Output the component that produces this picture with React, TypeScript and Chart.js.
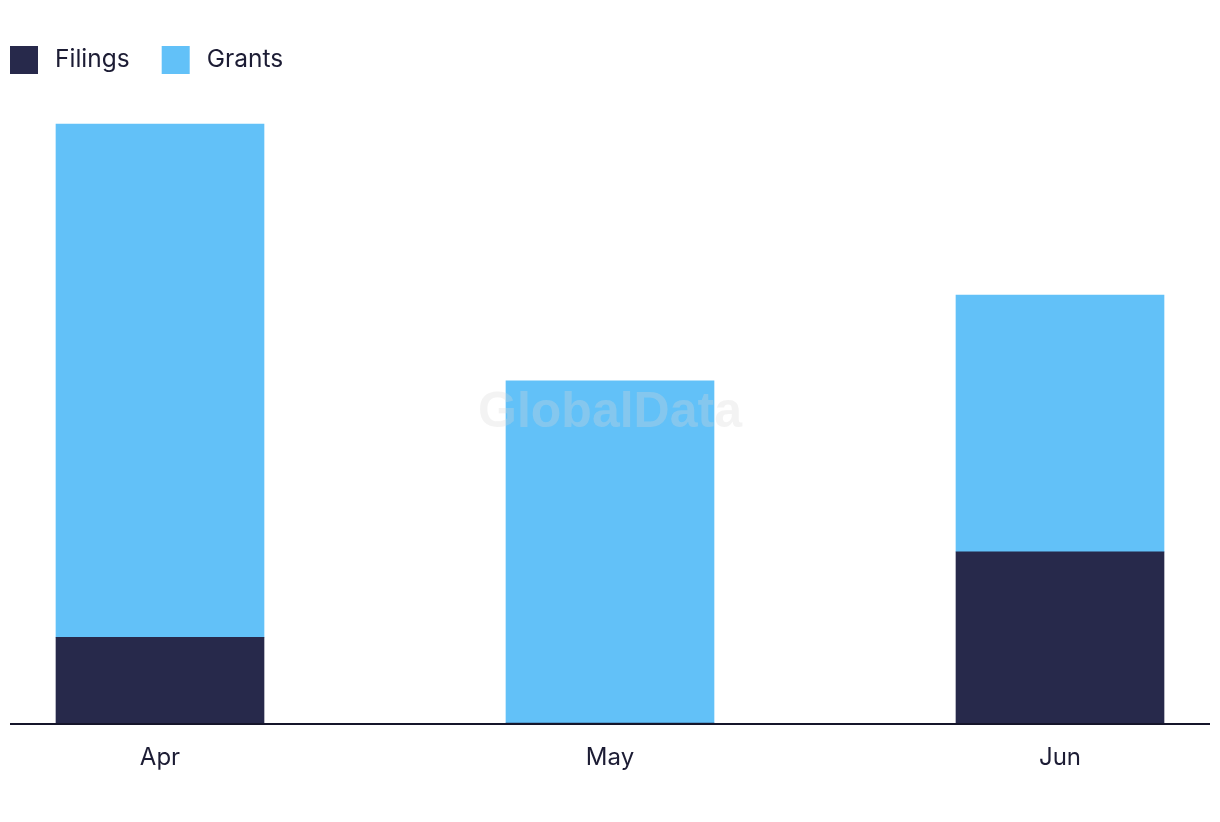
import React, { useEffect, useRef } from "react";
import { Chart, registerables } from "chart.js";

Chart.register(...registerables);

const categories = ["Apr", "May", "Jun"];
const filings = [1, 0, 2];
const grants = [6, 4, 3];
const seriesNames = ["Filings", "Grants"];
const seriesColors = ["#27294b", "#62c1f8"];
const yMax = 7;

const FONT = "Inter, 'Open Sans', sans-serif";
const TEXT_COLOR = "#1c1c34";

const legendPlugin = {
  id: "customLegend",
  afterDraw(chart: any) {
    const ctx = chart.ctx;
    ctx.save();
    ctx.font = `400 24.5px ${FONT}`;
    ctx.textBaseline = "middle";
    let x = 2;
    const y = 38;
    chart.data.datasets.forEach((ds: any) => {
      ctx.fillStyle = ds.backgroundColor;
      ctx.fillRect(x, y, 28, 28);
      ctx.fillStyle = TEXT_COLOR;
      ctx.fillText(ds.label, x + 45, y + 14);
      x += 45 + ctx.measureText(ds.label).width + 32;
    });
    ctx.restore();
  },
};

const baselinePlugin = {
  id: "baseline",
  afterDatasetsDraw(chart: any) {
    const ctx = chart.ctx;
    const y = chart.scales.y.getPixelForValue(0);
    ctx.save();
    ctx.strokeStyle = "#15152a";
    ctx.lineWidth = 2;
    ctx.beginPath();
    ctx.moveTo(2, y + 1);
    ctx.lineTo(1202, y + 1);
    ctx.stroke();
    ctx.restore();
  },
};

const watermarkPlugin = {
  id: "watermark",
  afterDatasetsDraw(chart: any) {
    const ctx = chart.ctx;
    ctx.save();
    ctx.font = "bold 50px 'Liberation Sans', Arial, sans-serif";
    ctx.textAlign = "center";
    ctx.textBaseline = "middle";
    ctx.fillStyle = "rgba(215,215,215,0.3)";
    ctx.fillText("GlobalData", 602, 405);
    ctx.restore();
  },
};

export default function App() {
  const ref = useRef<HTMLCanvasElement>(null);
  useEffect(() => {
    if (!ref.current) return;
    const chart = new Chart(ref.current, {
      type: "bar",
      data: {
        labels: categories,
        datasets: [
          {
            label: seriesNames[0],
            data: filings,
            backgroundColor: seriesColors[0],
            barThickness: 208,
            clip: false as any,
          },
          {
            label: seriesNames[1],
            data: grants,
            backgroundColor: seriesColors[1],
            barThickness: 208,
            clip: false as any,
          },
        ],
      },
      options: {
        animation: false,
        responsive: true,
        maintainAspectRatio: false,
        layout: { padding: { left: 152, right: 152, top: 116, bottom: 0 } },
        plugins: {
          legend: { display: false },
          tooltip: { enabled: false },
        },
        scales: {
          x: {
            stacked: true,
            offset: false,
            grid: { display: false, drawTicks: false },
            border: { display: false },
            ticks: {
              color: TEXT_COLOR,
              font: { family: FONT, size: 24 },
              padding: 20,
              maxRotation: 0,
            },
            afterFit: (s: any) => {
              s.height = 85;
            },
          },
          y: {
            stacked: true,
            display: false,
            min: 0,
            max: yMax,
          },
        },
      },
      plugins: [legendPlugin, baselinePlugin, watermarkPlugin],
    });
    return () => chart.destroy();
  }, []);
  return (
    <div style={{ position: "relative", width: 1204, height: 800 }}>
      <canvas ref={ref} />
    </div>
  );
}
